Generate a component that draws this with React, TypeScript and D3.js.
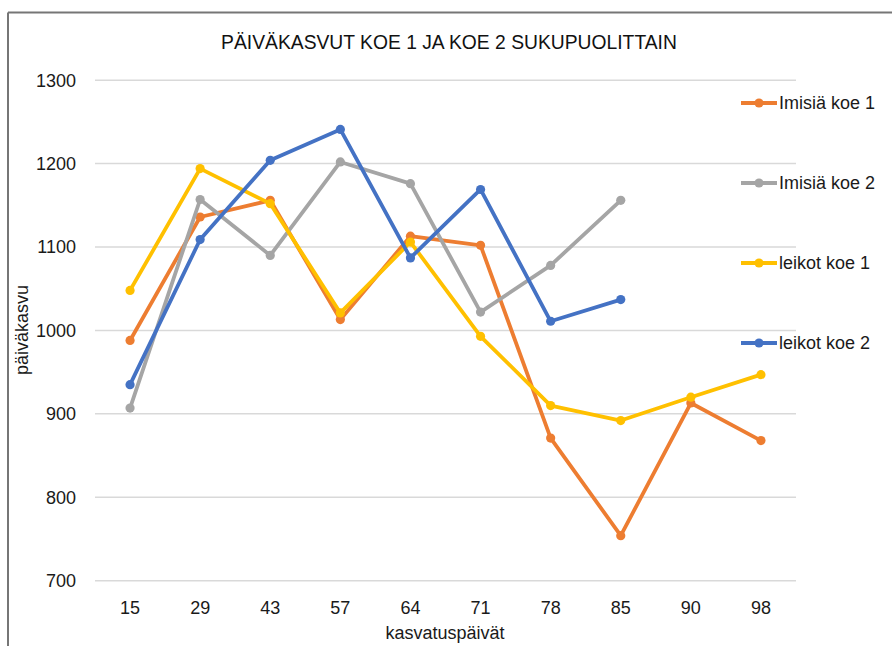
import React from 'react';
import * as d3 from 'd3';

const days = ['15', '29', '43', '57', '64', '71', '78', '85', '90', '98'];
const seriesNames = ['Imisiä koe 1', 'Imisiä koe 2', 'leikot koe 1', 'leikot koe 2'];
const colors = ['#ED7D31', '#A5A5A5', '#FFC000', '#4472C4'];

const imisiaKoe1 = [988, 1136, 1156, 1013, 1113, 1102, 871, 754, 913, 868];
const imisiaKoe2 = [907, 1157, 1090, 1202, 1176, 1022, 1078, 1156, null, null];
const leikotKoe1 = [1048, 1194, 1152, 1021, 1106, 993, 910, 892, 920, 947];
const leikotKoe2 = [935, 1109, 1204, 1241, 1087, 1169, 1011, 1037, null, null];

const yTicks = [700, 800, 900, 1000, 1100, 1200, 1300];

const allSeries = [imisiaKoe1, imisiaKoe2, leikotKoe1, leikotKoe2];

const W = 892;
const H = 646;
const font = '"Liberation Sans", Arial, sans-serif';

export default function App() {
  const x = d3.scaleBand<string>().domain(days).range([95, 796]).padding(0);
  const y = d3.scaleLinear().domain([700, 1300]).range([580.7, 80.2]);
  const cx = (d: string) => (x(d) as number) + x.bandwidth() / 2;

  const line = d3
    .line<number | null>()
    .defined((d) => d != null)
    .x((_, i) => cx(days[i]))
    .y((d) => y(d as number));

  const legendY = [103, 183, 263, 343];

  return (
    <svg
      width={W}
      height={H}
      style={{ position: 'absolute', left: 0, top: 0, background: '#fff' }}
    >
      {/* chart frame (top and left edges visible) */}
      <line x1={8} x2={W} y1={12.5} y2={12.5} stroke="#767676" strokeWidth={2} />
      <line x1={8} x2={8} y1={12.5} y2={H} stroke="#767676" strokeWidth={2} />

      <text x={449} y={48.5} textAnchor="middle" fontFamily={font} fontSize={19.3} fill="#111">
        PÄIVÄKASVUT KOE 1 JA KOE 2 SUKUPUOLITTAIN
      </text>

      {/* gridlines */}
      {yTicks.map((t) => (
        <line key={t} x1={95} x2={796} y1={y(t)} y2={y(t)} stroke="#D9D9D9" strokeWidth={1.5} />
      ))}

      {/* y tick labels */}
      {yTicks.map((t) => (
        <text
          key={'l' + t}
          x={76}
          y={y(t)}
          dy="0.35em"
          textAnchor="end"
          fontFamily={font}
          fontSize={18}
          fill="#1a1a1a"
        >
          {t}
        </text>
      ))}

      {/* x tick labels */}
      {days.map((d) => (
        <text
          key={d}
          x={cx(d)}
          y={608}
          dy="0.35em"
          textAnchor="middle"
          fontFamily={font}
          fontSize={18}
          fill="#1a1a1a"
        >
          {d}
        </text>
      ))}

      <text x={445} y={639} textAnchor="middle" fontFamily={font} fontSize={18} fill="#1a1a1a">
        kasvatuspäivät
      </text>
      <text
        transform={`translate(28, 330) rotate(-90)`}
        textAnchor="middle"
        fontFamily={font}
        fontSize={18}
        fill="#1a1a1a"
      >
        päiväkasvu
      </text>

      {/* series */}
      {allSeries.map((s, si) => (
        <g key={si}>
          <path d={line(s) || ''} fill="none" stroke={colors[si]} strokeWidth={3.8} strokeLinejoin="round" />
          {s.map((v, i) =>
            v == null ? null : <circle key={i} cx={cx(days[i])} cy={y(v)} r={4.6} fill={colors[si]} />
          )}
        </g>
      ))}

      {/* legend */}
      {seriesNames.map((n, i) => (
        <g key={n}>
          <line x1={741} x2={777} y1={legendY[i]} y2={legendY[i]} stroke={colors[i]} strokeWidth={3.8} />
          <circle cx={759} cy={legendY[i]} r={4.6} fill={colors[i]} />
          <text x={779} y={legendY[i]} dy="0.35em" fontFamily={font} fontSize={18} fill="#1a1a1a">
            {n}
          </text>
        </g>
      ))}
    </svg>
  );
}
